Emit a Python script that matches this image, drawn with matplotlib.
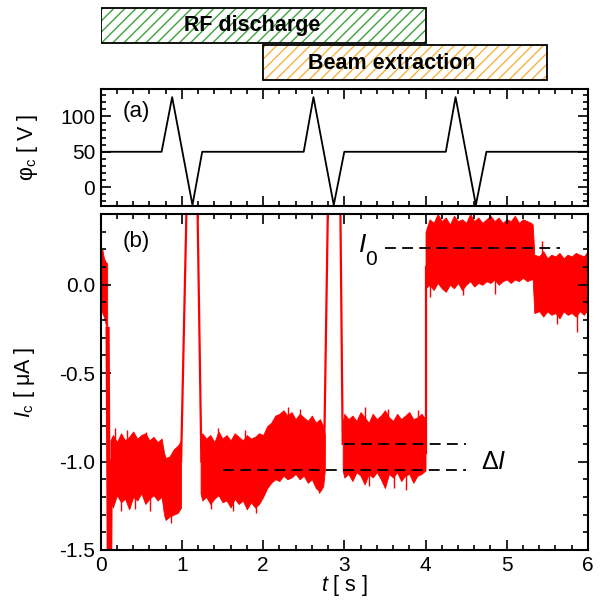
# Потенциал коллектора и ток коллектора во время разряда и извлечения пучка
import numpy as np
import matplotlib.pyplot as plt
from matplotlib.patches import Rectangle

plt.rcParams['font.family'] = ['Liberation Sans', 'DejaVu Sans']
plt.rcParams['mathtext.fontset'] = 'custom'
plt.rcParams['mathtext.rm'] = 'Liberation Sans'
plt.rcParams['mathtext.it'] = 'Liberation Sans:italic'
plt.rcParams['mathtext.bf'] = 'Liberation Sans:bold'
plt.rcParams['hatch.linewidth'] = 1.0

# ---- данные ----
# интервалы (начало, конец) в секундах
rf_on = (0.0, 4.0)
beam_on = (2.0, 5.5)

# панель (a): потенциал phi_c
phi_t = [0.0, 0.75, 0.88, 1.13, 1.25, 2.50, 2.62, 2.87, 3.00, 4.25, 4.37, 4.62, 4.75, 6.0]
phi_v = [50, 50, 127, -25, 50, 50, 127, -25, 50, 50, 127, -25, 50, 50]

# панель (b): огибающая шумного тока (верх/низ) по участкам
seg1_t = [0.0, 0.02, 0.04, 0.06, 0.08]
seg1_up = [0.19, 0.20, 0.15, 0.13, 0.12]
seg1_lo = [-0.12, -0.16, -0.18, -0.22, -0.30]

seg2_t = [0.12, 0.15, 0.2, 0.25, 0.3, 0.35, 0.4, 0.45, 0.5, 0.55, 0.6, 0.65, 0.7, 0.75,
          0.78, 0.8, 0.85, 0.9, 0.95, 0.99]
seg2_up = [-0.88, -0.85, -0.89, -0.84, -0.88, -0.86, -0.83, -0.87, -0.85, -0.84, -0.88, -0.86,
           -0.89, -0.87, -0.95, -0.98, -0.97, -0.93, -0.91, -0.88]
seg2_lo = [-1.22, -1.26, -1.19, -1.23, -1.21, -1.27, -1.20, -1.22, -1.18, -1.24, -1.21, -1.19,
           -1.22, -1.20, -1.30, -1.33, -1.31, -1.30, -1.29, -1.26]

seg3_t = [1.23, 1.25, 1.3, 1.35, 1.4, 1.45, 1.5, 1.55, 1.6, 1.65, 1.7, 1.75, 1.8, 1.85, 1.9,
          1.95, 2.0, 2.05, 2.1, 2.15, 2.2, 2.25, 2.3, 2.35, 2.4, 2.45, 2.5, 2.55, 2.6, 2.65,
          2.7, 2.74, 2.76]
seg3_up = [-0.88, -0.84, -0.87, -0.85, -0.89, -0.83, -0.87, -0.85, -0.88, -0.84, -0.86, -0.88,
           -0.85, -0.87, -0.86, -0.84, -0.85, -0.80, -0.78, -0.74, -0.73, -0.71, -0.74, -0.72,
           -0.76, -0.73, -0.75, -0.77, -0.74, -0.78, -0.76, -0.80, -0.85]
seg3_lo = [-1.18, -1.22, -1.20, -1.24, -1.21, -1.19, -1.23, -1.22, -1.26, -1.21, -1.24, -1.22,
           -1.27, -1.23, -1.26, -1.24, -1.20, -1.15, -1.12, -1.10, -1.11, -1.08, -1.10, -1.09,
           -1.07, -1.10, -1.08, -1.12, -1.10, -1.15, -1.17, -1.14, -1.05]

seg4_t = [2.98, 3.0, 3.05, 3.1, 3.15, 3.2, 3.25, 3.3, 3.35, 3.4, 3.45, 3.5, 3.55, 3.6, 3.65,
          3.7, 3.75, 3.8, 3.85, 3.9, 3.95, 4.0]
seg4_up = [-0.78, -0.73, -0.76, -0.74, -0.77, -0.72, -0.75, -0.78, -0.73, -0.76, -0.74, -0.71,
           -0.75, -0.77, -0.73, -0.76, -0.74, -0.72, -0.76, -0.75, -0.73, -0.76]
seg4_lo = [-1.05, -1.09, -1.07, -1.11, -1.06, -1.08, -1.13, -1.07, -1.09, -1.06, -1.10, -1.15,
           -1.07, -1.09, -1.06, -1.11, -1.08, -1.07, -1.12, -1.08, -1.07, -1.05]

seg5_t = [4.0, 4.05, 4.1, 4.15, 4.2, 4.25, 4.3, 4.35, 4.4, 4.45, 4.5, 4.55, 4.6, 4.65, 4.7,
          4.75, 4.8, 4.85, 4.9, 4.95, 5.0, 5.05, 5.1, 5.15, 5.2, 5.25, 5.3, 5.32,
          5.34, 5.4, 5.45, 5.5, 5.55, 5.6, 5.65, 5.7, 5.75, 5.8, 5.85, 5.9, 5.95, 6.0]
seg5_up = [0.30, 0.37, 0.35, 0.40, 0.36, 0.38, 0.34, 0.39, 0.36, 0.37, 0.35, 0.40, 0.36, 0.38,
           0.35, 0.37, 0.39, 0.36, 0.38, 0.35, 0.37, 0.36, 0.39, 0.35, 0.37, 0.36, 0.35, 0.34,
           0.17, 0.16, 0.19, 0.15, 0.17, 0.16, 0.18, 0.15, 0.17, 0.16, 0.18, 0.17, 0.16, 0.19]
seg5_lo = [-0.02, 0.00, -0.03, 0.01, -0.02, -0.04, 0.00, -0.02, 0.01, -0.03, 0.00, 0.02, -0.01,
           0.01, 0.00, 0.02, 0.01, 0.03, 0.00, 0.02, 0.03, 0.01, 0.03, 0.02, 0.04, 0.02, 0.03,
           0.03, -0.16, -0.15, -0.18, -0.15, -0.17, -0.16, -0.19, -0.15, -0.17, -0.16, -0.18,
           -0.15, -0.17, -0.14]

# отдельные выбросы шума: время, от, до
noise_t = [0.18, 0.33, 0.56, 0.25, 0.42, 0.61, 0.86, 1.44, 1.78, 2.31, 2.46, 1.36, 1.63,
           1.91, 2.69, 3.26, 3.54, 3.91, 3.31, 3.61, 3.76, 4.06, 4.46, 4.86, 5.44, 5.86, 5.62]
noise_from = [-1.0, -1.0, -1.0, -1.0, -1.0, -1.0, -1.1, -1.0, -1.0, -0.9, -0.9, -1.0, -1.0,
              -1.0, -1.0, -0.9, -0.9, -0.9, -0.9, -0.9, -0.9, 0.2, 0.2, 0.2, 0.0, 0.0, 0.0]
noise_to = [-0.81, -0.82, -0.83, -1.28, -1.27, -1.28, -1.35, -0.81, -0.82, -0.69, -0.70,
            -1.27, -1.28, -1.29, -1.18, -0.69, -0.70, -0.71, -1.14, -1.15, -1.16, -0.07, -0.06,
            -0.05, 0.25, -0.27, -0.22]

# пики (резкие выбросы) - линии
spike1_t = [0.085, 0.10, 0.115, 0.125]
spike1_v = [-0.25, -1.6, -1.6, -1.0]
spike2_t = [0.99, 1.06, 1.19, 1.24]
spike2_v = [-1.0, 0.5, 0.5, -1.0]
spike3_t = [2.75, 2.80, 2.95, 2.98]
spike3_v = [-1.0, 0.5, 0.5, -0.9]
jump_t = [4.0, 4.0]
jump_v = [-0.95, 0.1]

# уровни для разметки
I0 = 0.21
dI_low = -1.05
dI_high = -0.90

red = '#ff0000'
fs = 15
fs_lab = 15.5

fig = plt.figure(figsize=(6.03, 6.01), dpi=100)
ax_bar = fig.add_axes([0.167, 0.8536, 0.808, 0.1464])
ax_a = fig.add_axes([0.167, 0.6577, 0.808, 0.1937])
ax_b = fig.add_axes([0.167, 0.0849, 0.808, 0.559])

# ---- полоски режимов ----
ax_bar.set_xlim(0, 6)
ax_bar.set_ylim(88, 0)
ax_bar.axis('off')
bars = [(rf_on, 8, 35, '#3ea33e', 'RF discharge', 1.86, 26),
        (beam_on, 45.5, 34.5, '#f5b342', 'Beam extraction', 3.59, 64)]
for (t0, t1), y0, h, col, lab, tx, ty in bars:
    ax_bar.add_patch(Rectangle((t0, y0), t1 - t0, h, fill=False, hatch='///',
                               edgecolor=col, linewidth=0))
    ax_bar.add_patch(Rectangle((t0, y0), t1 - t0, h, fill=False,
                               edgecolor='black', linewidth=1.3))
    ax_bar.text(tx, ty, lab, ha='center', va='center', fontsize=15.5, fontweight='bold')

# ---- панель (a) ----
ax_a.plot(phi_t, phi_v, color='black', lw=1.3)
ax_a.set_xlim(0, 6)
ax_a.set_ylim(-26, 138)
ax_a.set_yticks([0, 50, 100])
ax_a.set_yticks(np.arange(-20, 131, 10), minor=True)
ax_a.set_xticks(range(7))
ax_a.set_xticks(np.arange(0, 6.01, 0.2), minor=True)
ax_a.tick_params(labelbottom=False)
ax_a.set_ylabel(r"φ$_\mathrm{c}$ [ V ]", fontsize=fs_lab)
ax_a.yaxis.set_label_coords(-0.125, 0.5)
ax_a.text(0.045, 0.81, '(a)', transform=ax_a.transAxes, fontsize=16, va='center')

# ---- панель (b) ----
for t, up, lo in [(seg1_t, seg1_up, seg1_lo), (seg2_t, seg2_up, seg2_lo),
                  (seg3_t, seg3_up, seg3_lo), (seg4_t, seg4_up, seg4_lo),
                  (seg5_t, seg5_up, seg5_lo)]:
    ax_b.fill_between(t, lo, up, color=red, linewidth=0.6, edgecolor=red)
ax_b.vlines(noise_t, noise_from, noise_to, color=red, lw=1.0)
ax_b.plot(spike1_t, spike1_v, color=red, lw=3)
for st, sv in [(spike2_t, spike2_v), (spike3_t, spike3_v), (jump_t, jump_v)]:
    ax_b.plot(st, sv, color=red, lw=1.6)

ax_b.plot([3.5, 5.65], [I0, I0], color='black', lw=1.3, dashes=(6, 3.5))
ax_b.plot([1.5, 4.5], [dI_low, dI_low], color='black', lw=1.3, dashes=(6, 3.5))
ax_b.plot([3.0, 4.5], [dI_high, dI_high], color='black', lw=1.3, dashes=(6, 3.5))
ax_b.text(3.22, 0.225, '$I$', fontsize=19, ha='center', va='center')
ax_b.text(3.33, 0.14, '0', fontsize=15, ha='center', va='center')
ax_b.text(4.84, -1.0, r'Δ$I$', fontsize=18, ha='center', va='center')

ax_b.set_xlim(0, 6)
ax_b.set_ylim(-1.5, 0.4)
ax_b.set_yticks([-1.5, -1.0, -0.5, 0.0])
ax_b.set_yticklabels(['-1.5', '-1.0', '-0.5', '0.0'])
ax_b.set_yticks(np.arange(-1.5, 0.41, 0.1), minor=True)
ax_b.set_xticks(range(7))
ax_b.set_xticks(np.arange(0, 6.01, 0.2), minor=True)
ax_b.set_xlabel(r"$t$ [ s ]", fontsize=fs_lab)
ax_b.xaxis.set_label_coords(0.5, -0.068)
ax_b.set_ylabel(r"$I_\mathrm{c}$ [ μA ]", fontsize=fs_lab)
ax_b.yaxis.set_label_coords(-0.13, 0.5)
ax_b.text(0.045, 0.917, '(b)', transform=ax_b.transAxes, fontsize=16, va='center')

for ax in (ax_a, ax_b):
    for s in ax.spines.values():
        s.set_linewidth(1.5)
    ax.tick_params(which='both', direction='in', top=True, right=True, labelsize=fs, width=1.2)
    ax.tick_params(which='major', length=7, pad=4)
    ax.tick_params(which='minor', length=3.5)

fig.savefig('out.png', dpi=100)
